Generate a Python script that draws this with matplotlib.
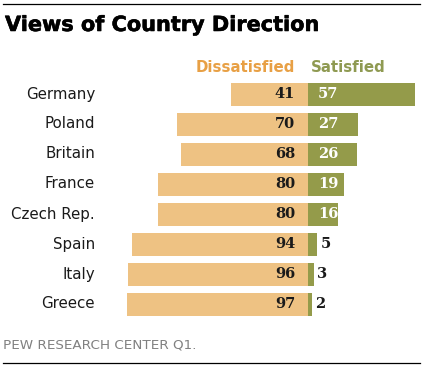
import matplotlib
matplotlib.use("Agg")
import matplotlib.pyplot as plt
import matplotlib.patheffects as pe
from matplotlib.lines import Line2D

countries = ["Germany", "Poland", "Britain", "France", "Czech Rep.", "Spain", "Italy", "Greece"]
dissatisfied = [41, 70, 68, 80, 80, 94, 96, 97]
satisfied = [57, 27, 26, 19, 16, 5, 3, 2]

W, H = 426, 371
DPI = 100
fig = plt.figure(figsize=(W / DPI, H / DPI), dpi=DPI)
fig.patch.set_facecolor("white")

cx = 308.0      # pixel of the zero line
scale = 1.87    # pixels per percentage point
y0 = 94.0       # pixel centre of first row
dy = 30.0       # row spacing in pixels

ax = fig.add_axes([0, 0, 1, 1])
ax.set_xlim(-cx / scale, (W - cx) / scale)
ax.set_ylim((H - y0) / dy, -y0 / dy)
ax.axis("off")

c_dis = "#EEC283"
c_sat = "#949B4A"
bar_h = 23 / dy

ypos = list(range(len(countries)))
ax.barh(ypos, [-d for d in dissatisfied], height=bar_h, color=c_dis, edgecolor="none")
ax.barh(ypos, satisfied, height=bar_h, color=c_sat, edgecolor="none")

def px2x(px):
    return (px - cx) / scale

num_font = dict(family="DejaVu Serif", fontweight="bold", fontsize=10.5)
for i, (c, d, s) in enumerate(zip(countries, dissatisfied, satisfied)):
    ax.text(px2x(95), i, c, ha="right", va="center", fontsize=10.8,
            family="DejaVu Sans", color="#1a1a1a")
    ax.text(px2x(295), i, str(d), ha="right", va="center", color="#1a1a1a", **num_font)
    if s >= 10:
        ax.text(px2x(318), i, str(s), ha="left", va="center", color="white", **num_font)
    else:
        ax.text(s + 3.0 / scale, i, str(s), ha="left", va="center",
                color="#1a1a1a", **num_font)

# Legend headings
fig.text(295 / W, 1 - 67 / H, "Dissatisfied", ha="right", va="center",
         fontsize=10.8, fontweight="bold", color="#E8A045", family="DejaVu Sans")
fig.text(311 / W, 1 - 67 / H, "Satisfied", ha="left", va="center",
         fontsize=10.8, fontweight="bold", color="#8F9A52", family="DejaVu Sans")

# Title
fig.text(5 / W, 1 - 25 / H, "Views of Country Direction", ha="left", va="center",
         fontsize=15, fontweight="bold", color="black", family="DejaVu Sans",
         path_effects=[pe.withStroke(linewidth=0.4, foreground="black")])

# Footer
fig.text(3 / W, 1 - 345 / H, "PEW RESEARCH CENTER Q1.", ha="left", va="center",
         fontsize=9.7, color="#808080", family="DejaVu Sans")

# Rules
fig.add_artist(Line2D([3 / W, 420 / W], [1 - 3.5 / H, 1 - 3.5 / H], color="black", lw=0.9))
fig.add_artist(Line2D([3 / W, 420 / W], [1 - 363 / H, 1 - 363 / H], color="black", lw=0.9))

fig.savefig("out.png", dpi=DPI, facecolor="white")
